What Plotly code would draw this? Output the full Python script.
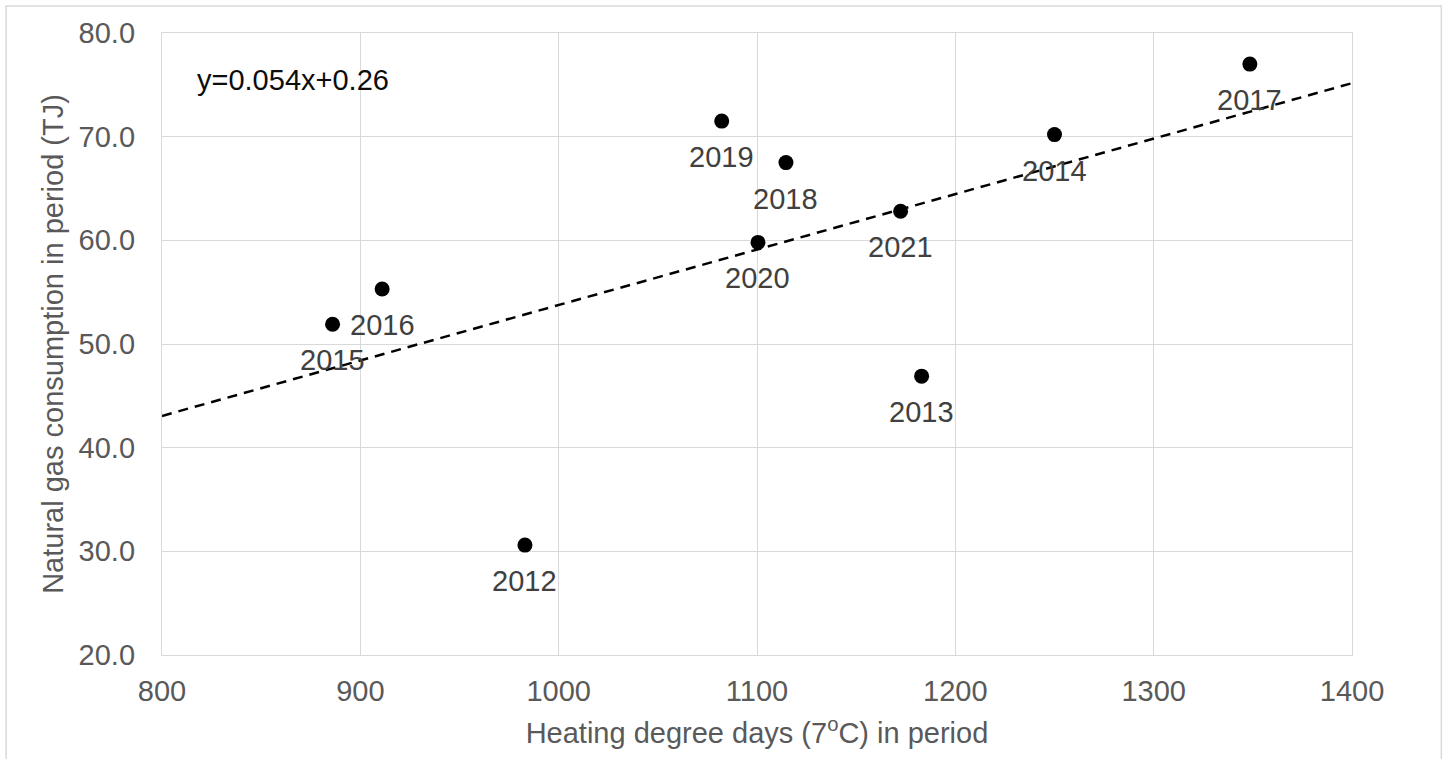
import plotly.graph_objects as go

# ---- data ----
years = ["2012", "2013", "2014", "2015", "2016", "2017", "2018", "2019", "2020", "2021"]
hdd = [983, 1183, 1250, 886, 911, 1348.5, 1114.6, 1082.2, 1100.5, 1172.4]
gas_tj = [30.6, 46.9, 70.2, 51.9, 55.3, 77.0, 67.5, 71.5, 59.8, 62.8]

trend_slope = 0.0535
trend_intercept = 0.26
trend_label = "y=0.054x+0.26"

x_range = [800, 1400]
y_range = [20, 80]

FONT = "Arial, Liberation Sans, sans-serif"
FS = 29

fig = go.Figure()

# trendline
fig.add_trace(go.Scatter(
    x=x_range,
    y=[trend_slope * v + trend_intercept for v in x_range],
    mode="lines",
    line=dict(color="black", width=2.5, dash="10px,7px"),
    hoverinfo="skip",
    showlegend=False,
))

# points
fig.add_trace(go.Scatter(
    x=hdd, y=gas_tj, mode="markers",
    marker=dict(color="black", size=15),
    text=years, showlegend=False,
))

# data labels below points
for yr, xv, yv in zip(years, hdd, gas_tj):
    fig.add_annotation(
        x=xv, y=yv, text=yr, showarrow=False,
        xanchor="center", yanchor="middle", yshift=-36,
        font=dict(family=FONT, size=FS, color="#404040"),
    )

# equation
fig.add_annotation(
    xref="paper", yref="paper", x=0.028, y=0.924,
    text=trend_label, showarrow=False,
    xanchor="left", yanchor="middle",
    font=dict(family=FONT, size=FS, color="#0d0d0d"),
)

# outer chart border
fig.add_shape(
    type="rect", xref="paper", yref="paper",
    x0=-0.131, x1=1.0751, y0=-0.3, y1=1.0434,
    line=dict(color="#d9d9d9", width=1.5), layer="below",
)

axis_common = dict(
    showgrid=True, gridcolor="#d9d9d9", gridwidth=1.3,
    showline=True, linecolor="#d9d9d9", linewidth=1.3, mirror=True,
    zeroline=False, ticks="outside", tickcolor="rgba(0,0,0,0)",
    tickfont=dict(family=FONT, size=FS, color="#595959"),
)

fig.update_xaxes(
    range=x_range, dtick=100, tick0=800, ticklen=10,
    title=dict(text="Heating degree days (7<sup>o</sup>C) in period",
               font=dict(family=FONT, size=FS, color="#595959"), standoff=16),
    **axis_common,
)
fig.update_yaxes(
    range=y_range, dtick=10, tick0=20, tickformat=".1f", ticklen=20,
    title=dict(text="Natural gas consumption in period (TJ)",
               font=dict(family=FONT, size=FS, color="#595959"), standoff=6),
    **axis_common,
)

fig.update_layout(
    width=1447, height=759,
    margin=dict(l=162, r=95, t=33, b=104, autoexpand=False),
    plot_bgcolor="white", paper_bgcolor="white",
    font=dict(family=FONT, size=FS, color="#595959"),
)

fig.write_html("out.html", config={"displayModeBar": False},
               post_script="document.body.style.margin='0';")
